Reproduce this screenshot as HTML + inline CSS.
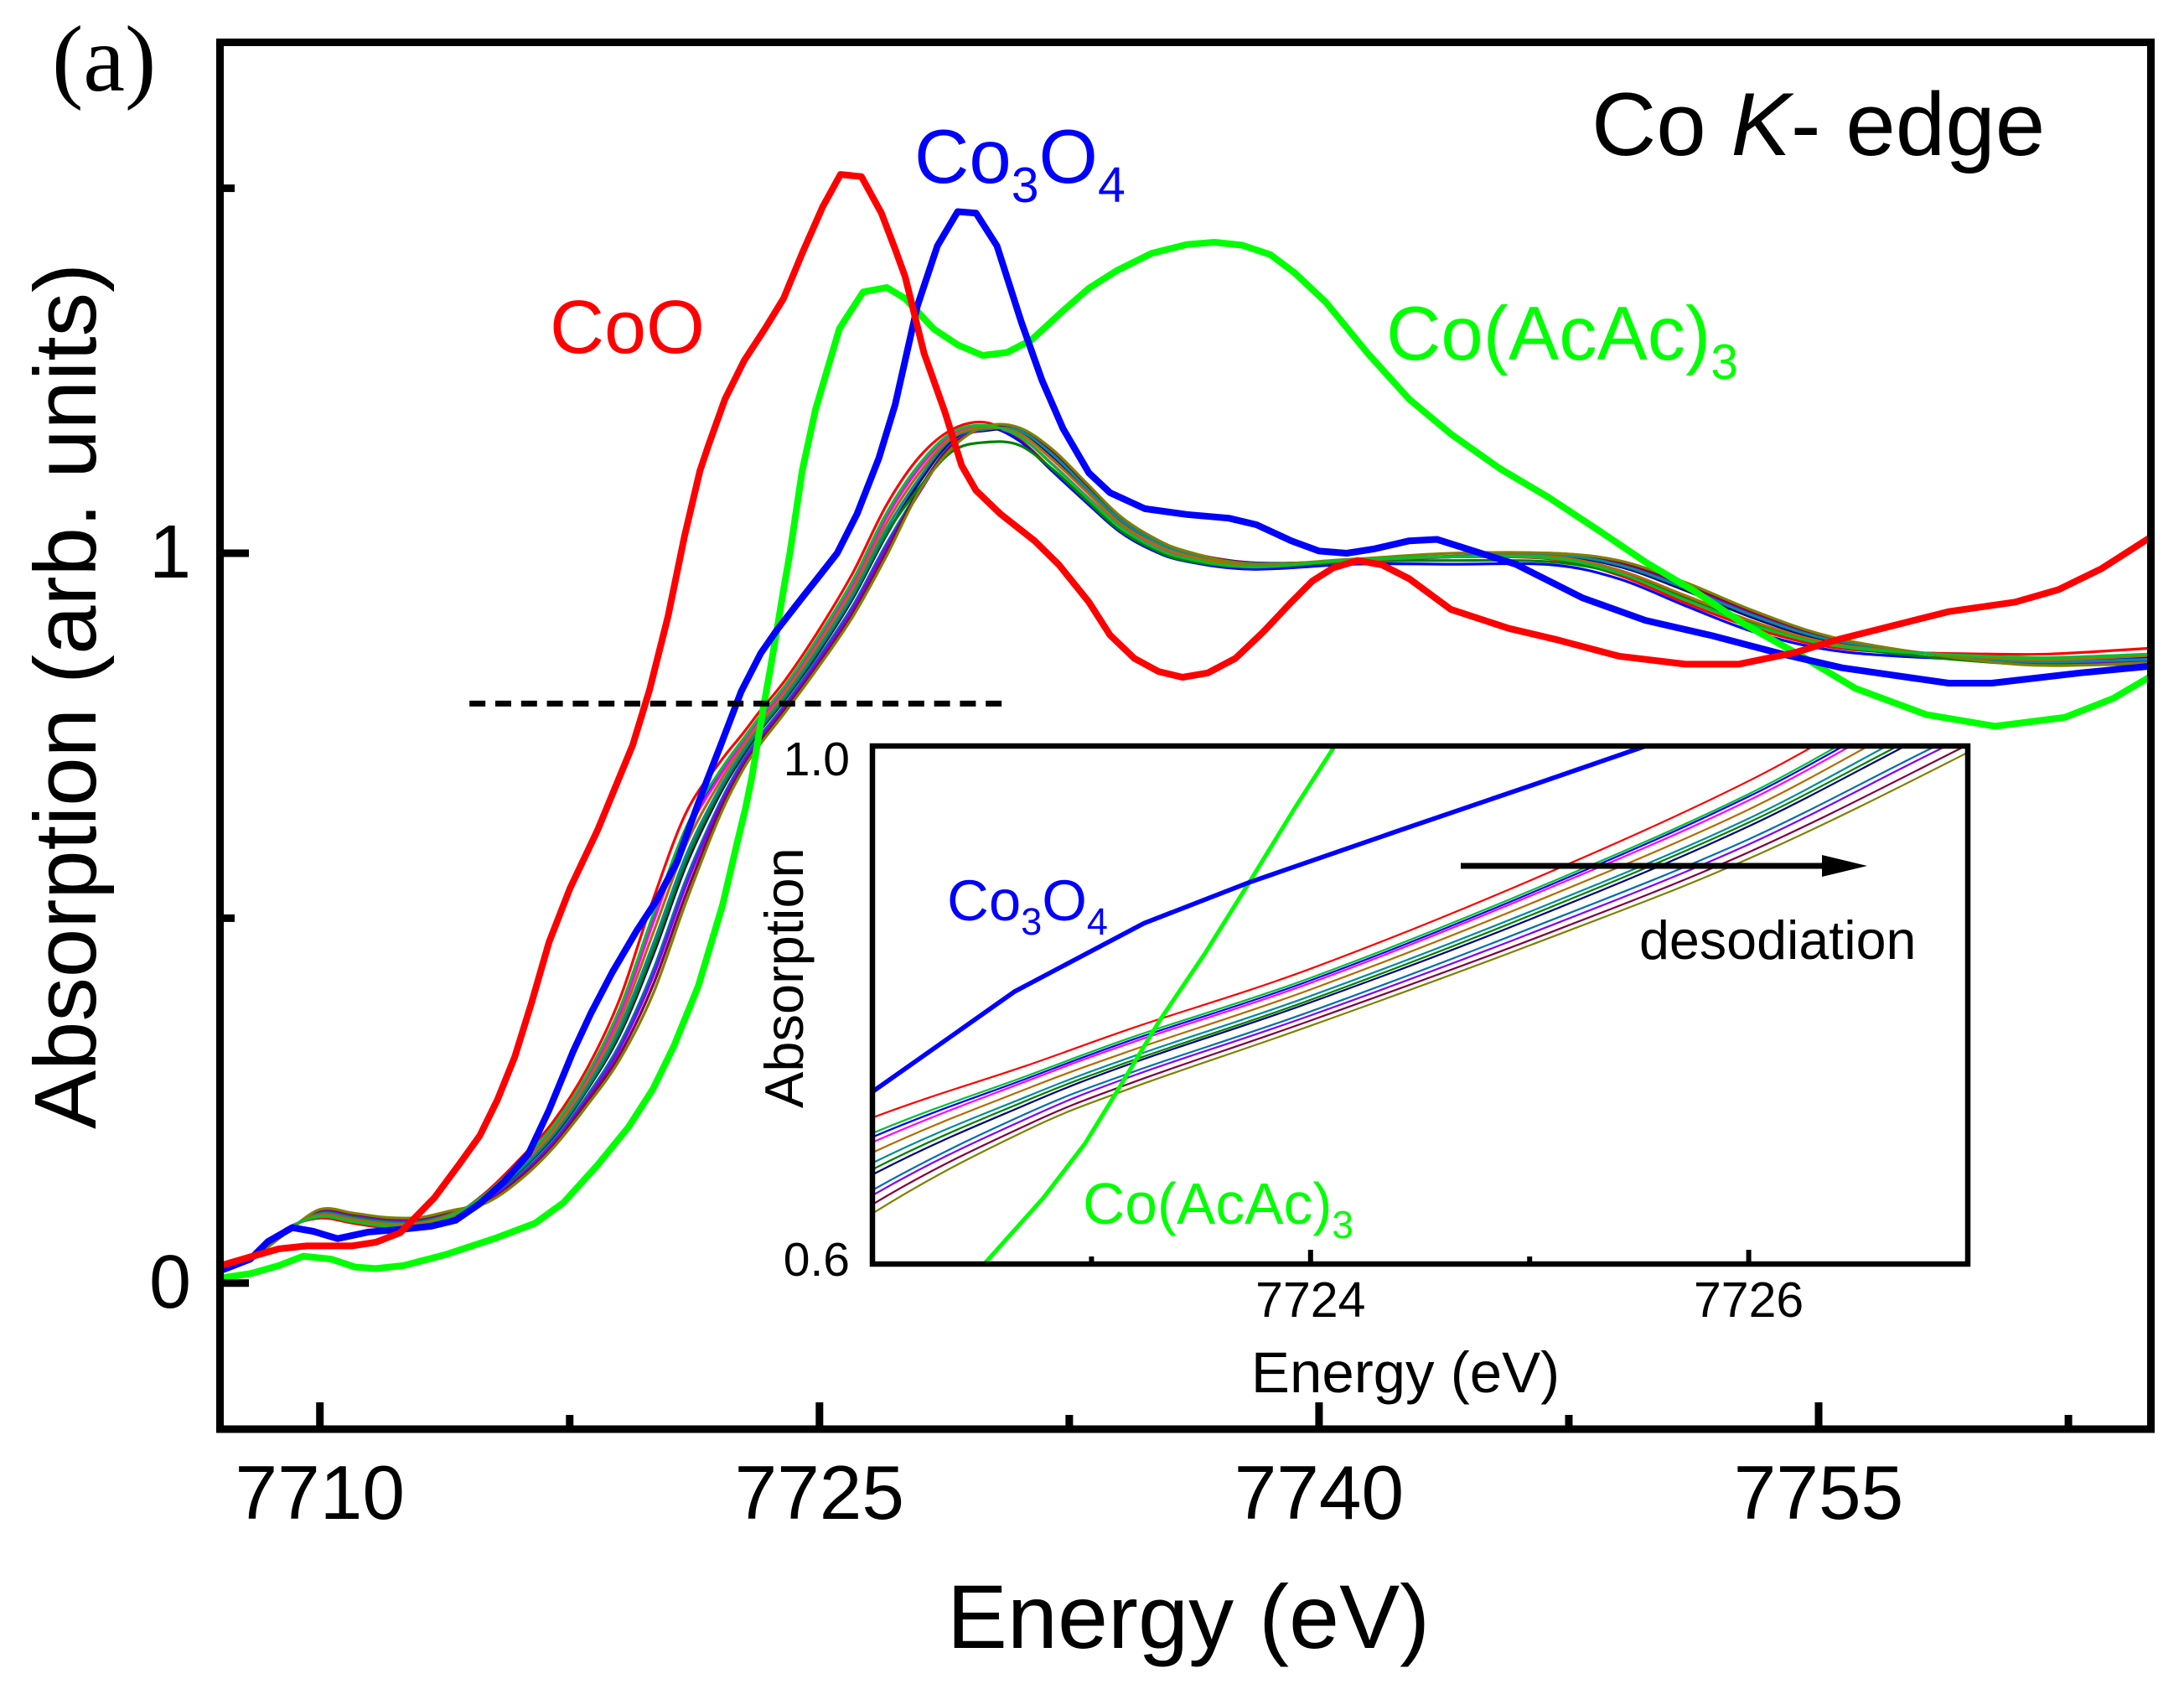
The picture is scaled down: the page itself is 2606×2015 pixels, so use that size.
<!DOCTYPE html>
<html lang="en">
<head>
<meta charset="utf-8">
<title>Co K-edge absorption</title>
<style>
html,body{margin:0;padding:0;background:#fff;width:2606px;height:2015px;overflow:hidden}
svg{display:block}
text{font-family:"Liberation Sans",Arial,sans-serif;fill:#000}
</style>
</head>
<body>
<svg id="chart" xmlns="http://www.w3.org/2000/svg" width="2606" height="2015" viewBox="0 0 2606 2015">
<rect x="0" y="0" width="2606" height="2015" fill="#fff"/>
<defs>
<clipPath id="main-clip"><rect x="262.5" y="50.5" width="2304" height="1654.5"/></clipPath>
<clipPath id="inset-clip"><rect x="1041" y="890" width="1307" height="618"/></clipPath>
</defs>
<g id="main-lines" clip-path="url(#main-clip)"></g>
<g id="main-axes"></g>
<g id="inset-lines" clip-path="url(#inset-clip)"></g>
<g id="inset-axes"></g>

<text x="62" y="108" font-size="112" style="font-family:'Liberation Serif',serif">(a)</text>
<text x="1899" y="185" font-size="107">Co <tspan font-style="italic">K</tspan>- edge</text>
<text x="656" y="421" font-size="90" style="fill:#ff0000">CoO</text>
<text x="1091" y="218" font-size="90.5" style="fill:#0000ff">Co<tspan dy="23" font-size="59">3</tspan><tspan dy="-23">O</tspan><tspan dy="23" font-size="59">4</tspan></text>
<text x="1654" y="429" font-size="90.5" style="fill:#00ff00">Co(AcAc)<tspan dy="23" font-size="59">3</tspan></text>
<text x="1418" y="1966" font-size="108" text-anchor="middle">Energy (eV)</text>
<text transform="translate(114,1347) rotate(-90)" font-size="105">Absorption (arb. units)</text>

<text x="1677" y="1661" font-size="69" text-anchor="middle">Energy (eV)</text>
<text transform="translate(958,1322) rotate(-90)" font-size="65">Absorption</text>
<text x="1130" y="1098" font-size="69" style="fill:#0000ff">Co<tspan dy="17" font-size="45">3</tspan><tspan dy="-17">O</tspan><tspan dy="17" font-size="45">4</tspan></text>
<text x="1292" y="1460" font-size="69.5" style="fill:#00ff00">Co(AcAc)<tspan dy="17" font-size="46">3</tspan></text>
<text x="1956" y="1144" font-size="64.6">desodiation</text>
<g>
<line x1="1743" y1="1033" x2="2176" y2="1033" stroke="#000" stroke-width="7"/>
<polygon points="2174,1020 2228,1033 2174,1046" fill="#000"/>
</g>
</svg>

<script>
// --- Reference spectra (energy in eV, normalised absorption) ---
const cooEnergy=[7707.01,7707.91,7708.77,7709.6,7710.95,7711.68,7712.41,7713.44,7714.17,7714.8,7715.33,7715.85,7716.36,7716.88,7717.51,7718.34,7719.39,7719.9,7720.45,7720.95,7721.41,7721.66,7722.16,7722.74,7723.37,7723.92,7724.48,7725.1,7725.63,7726.26,7726.86,7727.27,7727.57,7728.14,7728.77,7729.27,7729.7,7730.43,7731.46,7732.19,7733.09,7733.72,7734.45,7735.18,7735.9,7736.66,7737.49,7738.32,7739.17,7739.8,7740.43,7741.16,7741.89,7742.71,7743.96,7745.7,7747.1,7749,7751,7752.6,7754.3,7755.6,7757.6,7758.9,7760.9,7762.2,7763.5,7764.9,7765];
const cooValues=[.024,.036,.047,.051,.051,.056,.069,.117,.162,.202,.251,.310,.385,.467,.541,.621,.737,.813,.913,1.024,1.113,1.147,1.211,1.264,1.308,1.349,1.411,1.475,1.519,1.516,1.466,1.417,1.379,1.274,1.193,1.120,1.086,1.054,1.017,.984,.933,.888,.856,.838,.830,.836,.856,.892,.933,.962,.980,.990,.984,.965,.923,.897,.882,.859,.848,.848,.864,.882,.905,.920,.933,.950,.979,1.020,1.022];

const co3o4Energy=[7707.01,7707.91,7708.44,7709.17,7709.8,7710.53,7711.46,7712.51,7713.34,7714.07,7714.8,7715.53,7716.26,7716.88,7717.61,7718.14,7718.77,7719.5,7720.13,7720.73,7720.96,7721.48,7722,7722.65,7723.24,7723.72,7724.44,7725.02,7725.53,7726.13,7726.78,7727.27,7727.57,7727.94,7728.54,7729.15,7729.7,7730.33,7731.06,7731.68,7732.31,7733.09,7733.72,7734.77,7736.03,7737.29,7738.12,7739.17,7740,7740.83,7741.66,7742.71,7743.54,7745.9,7747.9,7749.8,7751.8,7753.9,7755.7,7758.9,7760.2,7762.85,7764.9,7765];
const co3o4Values=[.017,.033,.057,.076,.071,.061,.070,.074,.078,.086,.109,.139,.177,.237,.318,.370,.425,.482,.526,.578,.608,.672,.733,.8105,.8632,.8947,.9368,.9702,1.0,1.054,1.130,1.203,1.264,1.339,1.421,1.468,1.466,1.421,1.317,1.237,1.171,1.110,1.083,1.061,1.053,1.048,1.039,1.017,1.003,1.0,1.006,1.017,1.019,.985,.939,.908,.887,.862,.843,.822,.822,.836,.845,.845];

const coacacEnergy=[7707.01,7707.91,7708.77,7709.5,7710.33,7711.06,7711.68,7712.51,7713.77,7715.23,7716.46,7717.31,7718.34,7719.27,7720,7720.63,7721.36,7722.09,7722.51,7722.78,7722.97,7723.11,7723.31,7723.52,7723.72,7723.93,7724.11,7724.48,7724.88,7725.6,7726.31,7727.02,7727.57,7728.44,7729.17,7729.9,7730.63,7731.36,7732.31,7733.09,7733.92,7734.98,7736.03,7736.86,7737.69,7738.54,7739.27,7740.2,7741.46,7742.71,7743.97,7745.43,7746.91,7748.37,7749.83,7751.31,7752.76,7754.45,7756.1,7758.22,7760.3,7762.39,7763.84,7765];
const coacacValues=[.007,.013,.024,.037,.033,.022,.020,.024,.039,.061,.082,.110,.162,.214,.266,.325,.407,.518,.6,.651,.693,.7316,.7877,.8404,.8947,.9526,1.0,1.113,1.197,1.308,1.358,1.364,1.349,1.307,1.285,1.271,1.275,1.292,1.332,1.363,1.387,1.411,1.423,1.426,1.422,1.409,1.384,1.344,1.274,1.211,1.163,1.116,1.076,1.032,.987,.947,.903,.860,.815,.779,.763,.775,.801,.832];

// --- Desodiation series, all sampled on one energy grid ---
const seriesEnergy=[7707,7708,7709,7710,7711,7712,7713,7714,7715,7716,7717,7718,7719,7720,7721,7722,7722.7,7723.2,7724,7725,7726,7727,7728,7729,7730,7731,7732,7733,7734,7735,7736,7738,7741,7744,7747,7749,7751,7753,7755,7757,7760,7762,7765];
const seriesRed=[.020,.037,.075,.089,.082,.076,.077,.092,.125,.170,.221,.292,.389,.525,.645,.713,.753,.783,.828,.896,.973,1.065,1.132,1.170,1.179,1.156,1.114,1.071,1.031,1.005,.990,.980,.991,.995,.992,.970,.932,.898,.874,.865,.862,.862,.870];
const seriesBlue=[.019,.037,.074,.091,.085,.079,.080,.094,.122,.164,.214,.282,.372,.499,.621,.698,.743,.774,.819,.886,.961,1.051,1.120,1.165,1.174,1.154,1.112,1.070,1.030,1.004,.989,.978,.985,.985,.984,.965,.928,.893,.870,.860,.854,.853,.858];
const seriesMagenta=[.019,.037,.074,.092,.086,.080,.080,.094,.121,.163,.212,.280,.368,.493,.615,.694,.741,.772,.817,.884,.958,1.048,1.117,1.164,1.173,1.160,1.122,1.079,1.038,1.010,.994,.982,.991,.995,.994,.975,.939,.904,.878,.866,.858,.855,.862];
const seriesNavy=[.018,.036,.071,.096,.090,.084,.085,.097,.116,.153,.200,.263,.340,.449,.573,.669,.723,.756,.802,.866,.938,1.024,1.097,1.155,1.168,1.167,1.133,1.089,1.045,1.017,.999,.985,.990,.995,.997,.982,.949,.912,.883,.869,.855,.851,.855];
const seriesSteel=[.017,.036,.071,.098,.092,.086,.087,.098,.114,.148,.194,.255,.327,.428,.554,.657,.716,.749,.795,.859,.928,1.012,1.087,1.151,1.170,1.168,1.136,1.092,1.048,1.018,1.000,.986,.990,.995,.998,.985,.953,.916,.886,.870,.854,.849,.852];
const seriesPurple=[.017,.035,.070,.099,.093,.087,.088,.099,.113,.146,.192,.251,.321,.420,.546,.653,.712,.746,.792,.855,.924,1.008,1.083,1.150,1.170,1.169,1.138,1.093,1.049,1.019,1.001,.987,.989,.995,.999,.986,.955,.918,.887,.870,.853,.848,.851];
const seriesMaroon=[.016,.035,.070,.100,.095,.089,.089,.099,.111,.144,.188,.247,.313,.408,.534,.646,.707,.741,.788,.850,.918,1.001,1.088,1.148,1.172,1.171,1.140,1.095,1.050,1.021,1.002,.987,.989,.996,1.000,.988,.957,.920,.889,.870,.853,.847,.850];
const seriesDarkGreen=[.018,.036,.072,.095,.090,.084,.084,.096,.117,.154,.202,.265,.344,.455,.579,.673,.726,.758,.804,.869,.941,1.026,1.090,1.140,1.152,1.148,1.115,1.073,1.032,1.006,.990,.981,.988,.990,.988,.972,.940,.905,.878,.864,.851,.847,.848];
const seriesTeal=[.018,.036,.072,.095,.089,.083,.083,.096,.118,.156,.204,.268,.350,.464,.587,.678,.729,.761,.807,.872,.944,1.032,1.103,1.158,1.170,1.168,1.135,1.090,1.047,1.018,1.000,.986,.990,.996,.998,.984,.952,.915,.885,.870,.855,.851,.855];
const seriesBrown=[.019,.036,.073,.093,.087,.081,.082,.095,.120,.160,.208,.274,.359,.479,.601,.686,.735,.766,.812,.878,.951,1.040,1.110,1.160,1.172,1.164,1.128,1.085,1.042,1.014,.997,.983,.990,.995,.995,.977,.942,.907,.880,.867,.857,.854,.860];
const seriesOlive=[.016,.035,.069,.101,.096,.090,.090,.100,.110,.141,.185,.242,.306,.396,.523,.639,.703,.737,.784,.846,.913,.995,1.085,1.145,1.174,1.172,1.142,1.097,1.052,1.022,1.003,.985,.992,1.000,1.000,.990,.960,.922,.890,.871,.852,.846,.850];
const seriesGreen=[.019,.037,.074,.091,.084,.078,.079,.093,.123,.165,.215,.284,.376,.504,.625,.701,.745,.776,.821,.888,.963,1.054,1.122,1.166,1.175,1.160,1.121,1.078,1.037,1.009,.993,.981,.991,.995,.993,.973,.936,.902,.877,.866,.859,.857,.862];

// --- Axis tick values and labels ---
const mainXMajor=[7710,7725,7740,7755];
const mainXMinor=[7717.5,7732.5,7747.5,7762.5];
const mainYMajor=[0,1];
const mainYMinor=[0.5,1.5];
const mainXLabels=["7710","7725","7740","7755"];
const mainYLabels=["0","1"];
const insetXMajor=[7724,7726];
const insetXMinor=[7723,7725];
const insetXLabels=["7724","7726"];
const insetYLabelValues=[1.0,0.6];
const insetYLabels=["1.0","0.6"];
const dashEnergy=[7714.49,7730.5];
const dashValue=[0.794,0.794];

const NS='http://www.w3.org/2000/svg';
function mainX(e){return 262.5+(e-7707)*39.74;}
function mainY(a){return 1530.8-a*870.8;}
function insetX(e){return 1041+(e-7722)*261.4;}
function insetY(a){return 1508-(a-0.6)*1545;}

function smoothPath(pts){
  let d='M'+pts[0][0].toFixed(1)+' '+pts[0][1].toFixed(1);
  for(let i=0;i<pts.length-1;i++){
    const p0=pts[Math.max(i-1,0)],p1=pts[i],p2=pts[i+1],p3=pts[Math.min(i+2,pts.length-1)];
    const c1x=p1[0]+(p2[0]-p0[0])/6,c1y=p1[1]+(p2[1]-p0[1])/6;
    const c2x=p2[0]-(p3[0]-p1[0])/6,c2y=p2[1]-(p3[1]-p1[1])/6;
    d+='C'+c1x.toFixed(1)+' '+c1y.toFixed(1)+' '+c2x.toFixed(1)+' '+c2y.toFixed(1)+' '+p2[0].toFixed(1)+' '+p2[1].toFixed(1);
  }
  return d;
}
function straightPath(pts){
  return 'M'+pts.map(function(p){return p[0].toFixed(1)+' '+p[1].toFixed(1);}).join('L');
}
function drawLine(parent,es,vs,fx,fy,color,width,name,eMin,eMax,smooth){
  const pts=[];
  es.forEach(function(e,i){
    if(e>=eMin&&e<=eMax){pts.push([fx(e),fy(vs[i])]);}
  });
  const el=document.createElementNS(NS,'path');
  el.setAttribute('d',smooth?smoothPath(pts):straightPath(pts));
  el.setAttribute('fill','none');
  el.setAttribute('stroke',color);
  el.setAttribute('stroke-width',width);
  el.setAttribute('stroke-linejoin','round');
  
  
  parent.appendChild(el);
  return el;
}
function drawTick(parent,x1,y1,x2,y2,width,name){
  const el=document.createElementNS(NS,'line');
  el.setAttribute('x1',x1);
  el.setAttribute('y1',y1);
  el.setAttribute('x2',x2);
  el.setAttribute('y2',y2);
  el.setAttribute('stroke','#000');
  el.setAttribute('stroke-width',width);
  
  
  parent.appendChild(el);
}
function drawLabel(parent,x,y,size,anchor,content,name){
  const el=document.createElementNS(NS,'text');
  el.setAttribute('x',x);
  el.setAttribute('y',y);
  el.setAttribute('font-size',size);
  el.setAttribute('text-anchor',anchor);
  el.textContent=content;
  
  
  parent.appendChild(el);
}
function drawFrame(parent,x,y,w,h,sw,name){
  const el=document.createElementNS(NS,'rect');
  el.setAttribute('x',x);
  el.setAttribute('y',y);
  el.setAttribute('width',w);
  el.setAttribute('height',h);
  el.setAttribute('fill','none');
  el.setAttribute('stroke','#000');
  el.setAttribute('stroke-width',sw);
  
  
  parent.appendChild(el);
}

const family=[
  [seriesRed,'#ff0000','red'],
  [seriesBlue,'#0000ff','blue'],
  [seriesMagenta,'#ff00ff','magenta'],
  [seriesNavy,'#000080','navy'],
  [seriesSteel,'#0070a8','steel'],
  [seriesPurple,'#8000ff','purple'],
  [seriesMaroon,'#800040','maroon'],
  [seriesDarkGreen,'#008000','dark-green'],
  [seriesTeal,'#008b9b','teal'],
  [seriesBrown,'#b36b00','brown'],
  [seriesOlive,'#808000','olive'],
  [seriesGreen,'#00c030','green']
];

const mainLines=document.getElementById('main-lines');
const insetLines=document.getElementById('inset-lines');
const mainAxes=document.getElementById('main-axes');
const insetAxes=document.getElementById('inset-axes');

family.forEach(function(f){
  drawLine(mainLines,seriesEnergy,f[0],mainX,mainY,f[1],3.2,'main-desodiation-series-'+f[2],7707,7765,true);
});
drawLine(mainLines,coacacEnergy,coacacValues,mainX,mainY,'#00ff00',8,'main-coacac3-line',7707,7765,false);
drawLine(mainLines,co3o4Energy,co3o4Values,mainX,mainY,'#0000ff',8,'main-co3o4-line',7707,7765,false);
drawLine(mainLines,cooEnergy,cooValues,mainX,mainY,'#ff0000',8,'main-coo-line',7707,7765,false);
const dash=drawLine(mainLines,dashEnergy,dashValue,mainX,mainY,'#000',7,'half-edge-dashed-line',7707,7765,false);
dash.setAttribute('stroke-dasharray','19 11.8');

family.forEach(function(f){
  drawLine(insetLines,seriesEnergy,f[0],insetX,insetY,f[1],2.2,'inset-desodiation-series-'+f[2],7721,7728,true);
});
drawLine(insetLines,coacacEnergy,coacacValues,insetX,insetY,'#00ff00',5,'inset-coacac3-line',7721,7726,false);
drawLine(insetLines,co3o4Energy,co3o4Values,insetX,insetY,'#0000ff',5.5,'inset-co3o4-line',7721,7728,false);

// main axes
drawFrame(mainAxes,262.5,50.5,2304,1654.5,9,'main-plot-frame');
mainXMajor.forEach(function(e){
  drawTick(mainAxes,mainX(e),1673,mainX(e),1702,9,'x-major-tick');
});
mainXMinor.forEach(function(e){
  drawTick(mainAxes,mainX(e),1688,mainX(e),1702,9,'x-minor-tick');
});
mainYMajor.forEach(function(a){
  drawTick(mainAxes,265,mainY(a),297,mainY(a),9,'y-major-tick');
});
mainYMinor.forEach(function(a){
  drawTick(mainAxes,265,mainY(a),280,mainY(a),9,'y-minor-tick');
});
mainXLabels.forEach(function(t,i){
  drawLabel(mainAxes,mainX(mainXMajor[i]),1812,91,'middle',t,'x-tick-label');
});
mainYLabels.forEach(function(t,i){
  drawLabel(mainAxes,228,mainY(mainYMajor[i])+29,90,'end',t,'y-tick-label');
});

// inset axes
drawFrame(insetAxes,1041,890,1307,618,6.5,'inset-plot-frame');
insetXMajor.forEach(function(e){
  drawTick(insetAxes,insetX(e),1491,insetX(e),1506,6,'inset-x-major-tick');
});
insetXMinor.forEach(function(e){
  drawTick(insetAxes,insetX(e),1499,insetX(e),1506,6,'inset-x-minor-tick');
});
insetXLabels.forEach(function(t,i){
  drawLabel(insetAxes,insetX(insetXMajor[i]),1571,59,'middle',t,'inset-x-tick-label');
});
insetYLabels.forEach(function(t,i){
  drawLabel(insetAxes,1014,insetY(insetYLabelValues[i])+(i===0?35:14),57,'end',t,'inset-y-tick-label');
});
</script>
</body>
</html>
